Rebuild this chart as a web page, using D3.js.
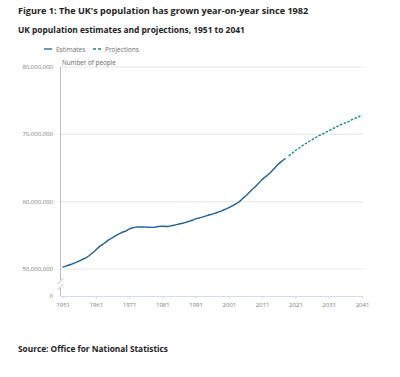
<!DOCTYPE html>
<html>
<head>
<meta charset="utf-8">
<script src="https://cdn.jsdelivr.net/npm/d3@7"></script>
<style>
  body { margin: 0; background: #fff; }
  svg { font-family: "Open Sans", sans-serif; }
</style>
</head>
<body>
<div id="chart"></div>
<script>

// Data (millions)
const estYears = d3.range(1951, 2019);
const estValues = [50.29, 50.43, 50.59, 50.77, 50.95, 51.18, 51.43, 51.65, 51.96, 52.37,
    52.81, 53.29, 53.63, 54.00, 54.35, 54.64, 54.96, 55.21, 55.46, 55.63,
    55.93, 56.10, 56.22, 56.24, 56.23, 56.22, 56.19, 56.18, 56.24, 56.33,
    56.36, 56.32, 56.35, 56.46, 56.55, 56.68, 56.80, 56.92, 57.08, 57.24,
    57.44, 57.58, 57.71, 57.86, 58.02, 58.16, 58.31, 58.47, 58.68, 58.89,
    59.11, 59.37, 59.64, 59.95, 60.41, 60.83, 61.32, 61.82, 62.26, 62.76,
    63.29, 63.70, 64.11, 64.60, 65.11, 65.65, 66.04, 66.44];
const projYears = d3.range(2019, 2042);
const projValues = [66.8, 67.2, 67.6, 67.9, 68.3, 68.6, 68.9, 69.2, 69.5, 69.8,
    70.0, 70.3, 70.5, 70.8, 71.0, 71.3, 71.5, 71.7, 71.9, 72.2, 72.4, 72.6, 72.9];
const yTicks = [50000000, 60000000, 70000000, 80000000];
const xTicks = [1951, 1961, 1971, 1981, 1991, 2001, 2011, 2021, 2031, 2041];
const seriesNames = ["Estimates", "Projections"];

const width = 400, height = 377;
const svg = d3.select("#chart").append("svg")
    .attr("width", width)
    .attr("height", height);

// Titles
svg.append("text")
    .attr("x", 18).attr("y", 13.5)
    .attr("font-size", 9.1).attr("font-weight", 700).attr("fill", "#222")
    .text("Figure 1: The UK's population has grown year-on-year since 1982");

svg.append("text")
    .attr("x", 18).attr("y", 32.5)
    .attr("font-size", 8.4).attr("font-weight", 700).attr("fill", "#222")
    .text("UK population estimates and projections, 1951 to 2041");

svg.append("text")
    .attr("x", 18).attr("y", 352)
    .attr("font-size", 8.3).attr("font-weight", 700).attr("fill", "#222")
    .text("Source: Office for National Statistics");

// Scales
const x = d3.scaleLinear().domain([1951, 2041]).range([62.5, 362]);
const y = d3.scaleLinear().domain([50000000, 80000000]).range([269, 67]);
const baseY = 296;
const colors = ["#206095", "#118c7b"];

// Legend
const legend = svg.append("g").attr("class", "legend");
seriesNames.forEach((name, i) => {
    const lx = [44, 93][i];
    legend.append("line")
        .attr("x1", lx).attr("x2", lx + 8)
        .attr("y1", 49).attr("y2", 49)
        .attr("stroke", colors[i]).attr("stroke-width", 1.3)
        .attr("stroke-dasharray", i === 1 ? "3,2" : null);
    legend.append("text")
        .attr("x", lx + 12).attr("y", 51.5)
        .attr("font-size", 6.5).attr("fill", "#707070")
        .text(name);
});

// Gridlines and y labels
svg.append("g").selectAll("line")
    .data(yTicks)
    .join("line")
    .attr("x1", 60).attr("x2", 363)
    .attr("y1", d => y(d)).attr("y2", d => y(d))
    .attr("stroke", "#e6e6e6").attr("stroke-width", 1);

svg.append("g").selectAll("text")
    .data(yTicks)
    .join("text")
    .attr("x", 53).attr("y", d => y(d) + 2)
    .attr("text-anchor", "end")
    .attr("font-size", 6).attr("fill", "#7a7a7a")
    .text(d => d3.format(",")(d));

svg.append("text")
    .attr("x", 53).attr("y", baseY + 2)
    .attr("text-anchor", "end")
    .attr("font-size", 6).attr("fill", "#7a7a7a")
    .text("0");

svg.append("text")
    .attr("x", 62).attr("y", 65)
    .attr("font-size", 6.3).attr("fill", "#666")
    .text("Number of people");

// Y axis line with break
const axisG = svg.append("g").attr("stroke", "#bdbdbd").attr("stroke-width", 1);
axisG.append("line").attr("x1", 60.5).attr("x2", 60.5).attr("y1", 67).attr("y2", 280);
axisG.append("line").attr("x1", 60.5).attr("x2", 60.5).attr("y1", 288).attr("y2", baseY);
axisG.append("line").attr("x1", 57.5).attr("x2", 63.5).attr("y1", 284).attr("y2", 278);
axisG.append("line").attr("x1", 57.5).attr("x2", 63.5).attr("y1", 290).attr("y2", 284);

// X axis
const xAxis = d3.axisBottom(x)
    .tickValues(xTicks)
    .tickFormat(d3.format("d"))
    .tickSize(3)
    .tickSizeOuter(0);

const xg = svg.append("g")
    .attr("transform", "translate(0," + baseY + ")")
    .call(xAxis);
xg.select(".domain").attr("stroke", "#d3dcee").attr("d", "M60," + 0.5 + "H362.5");
xg.selectAll(".tick line").attr("stroke", "#d3dcee");
xg.selectAll(".tick text")
    .attr("font-family", "Open Sans, sans-serif")
    .attr("font-size", 6).attr("fill", "#7a7a7a").attr("dy", "0.9em");

// Lines
const line = d3.line()
    .x(d => x(d[0]))
    .y(d => y(d[1] * 1e6))
    .curve(d3.curveMonotoneX);

svg.append("path")
    .datum(estYears.map((yr, i) => [yr, estValues[i]]))
    .attr("fill", "none")
    .attr("stroke", colors[0])
    .attr("stroke-width", 1.4)
    .attr("d", line);

svg.append("path")
    .datum(projYears.map((yr, i) => [yr, projValues[i]]))
    .attr("fill", "none")
    .attr("stroke", colors[1])
    .attr("stroke-width", 1.4)
    .attr("stroke-dasharray", "2.5,1.5")
    .attr("d", line);

</script>
</body>
</html>
